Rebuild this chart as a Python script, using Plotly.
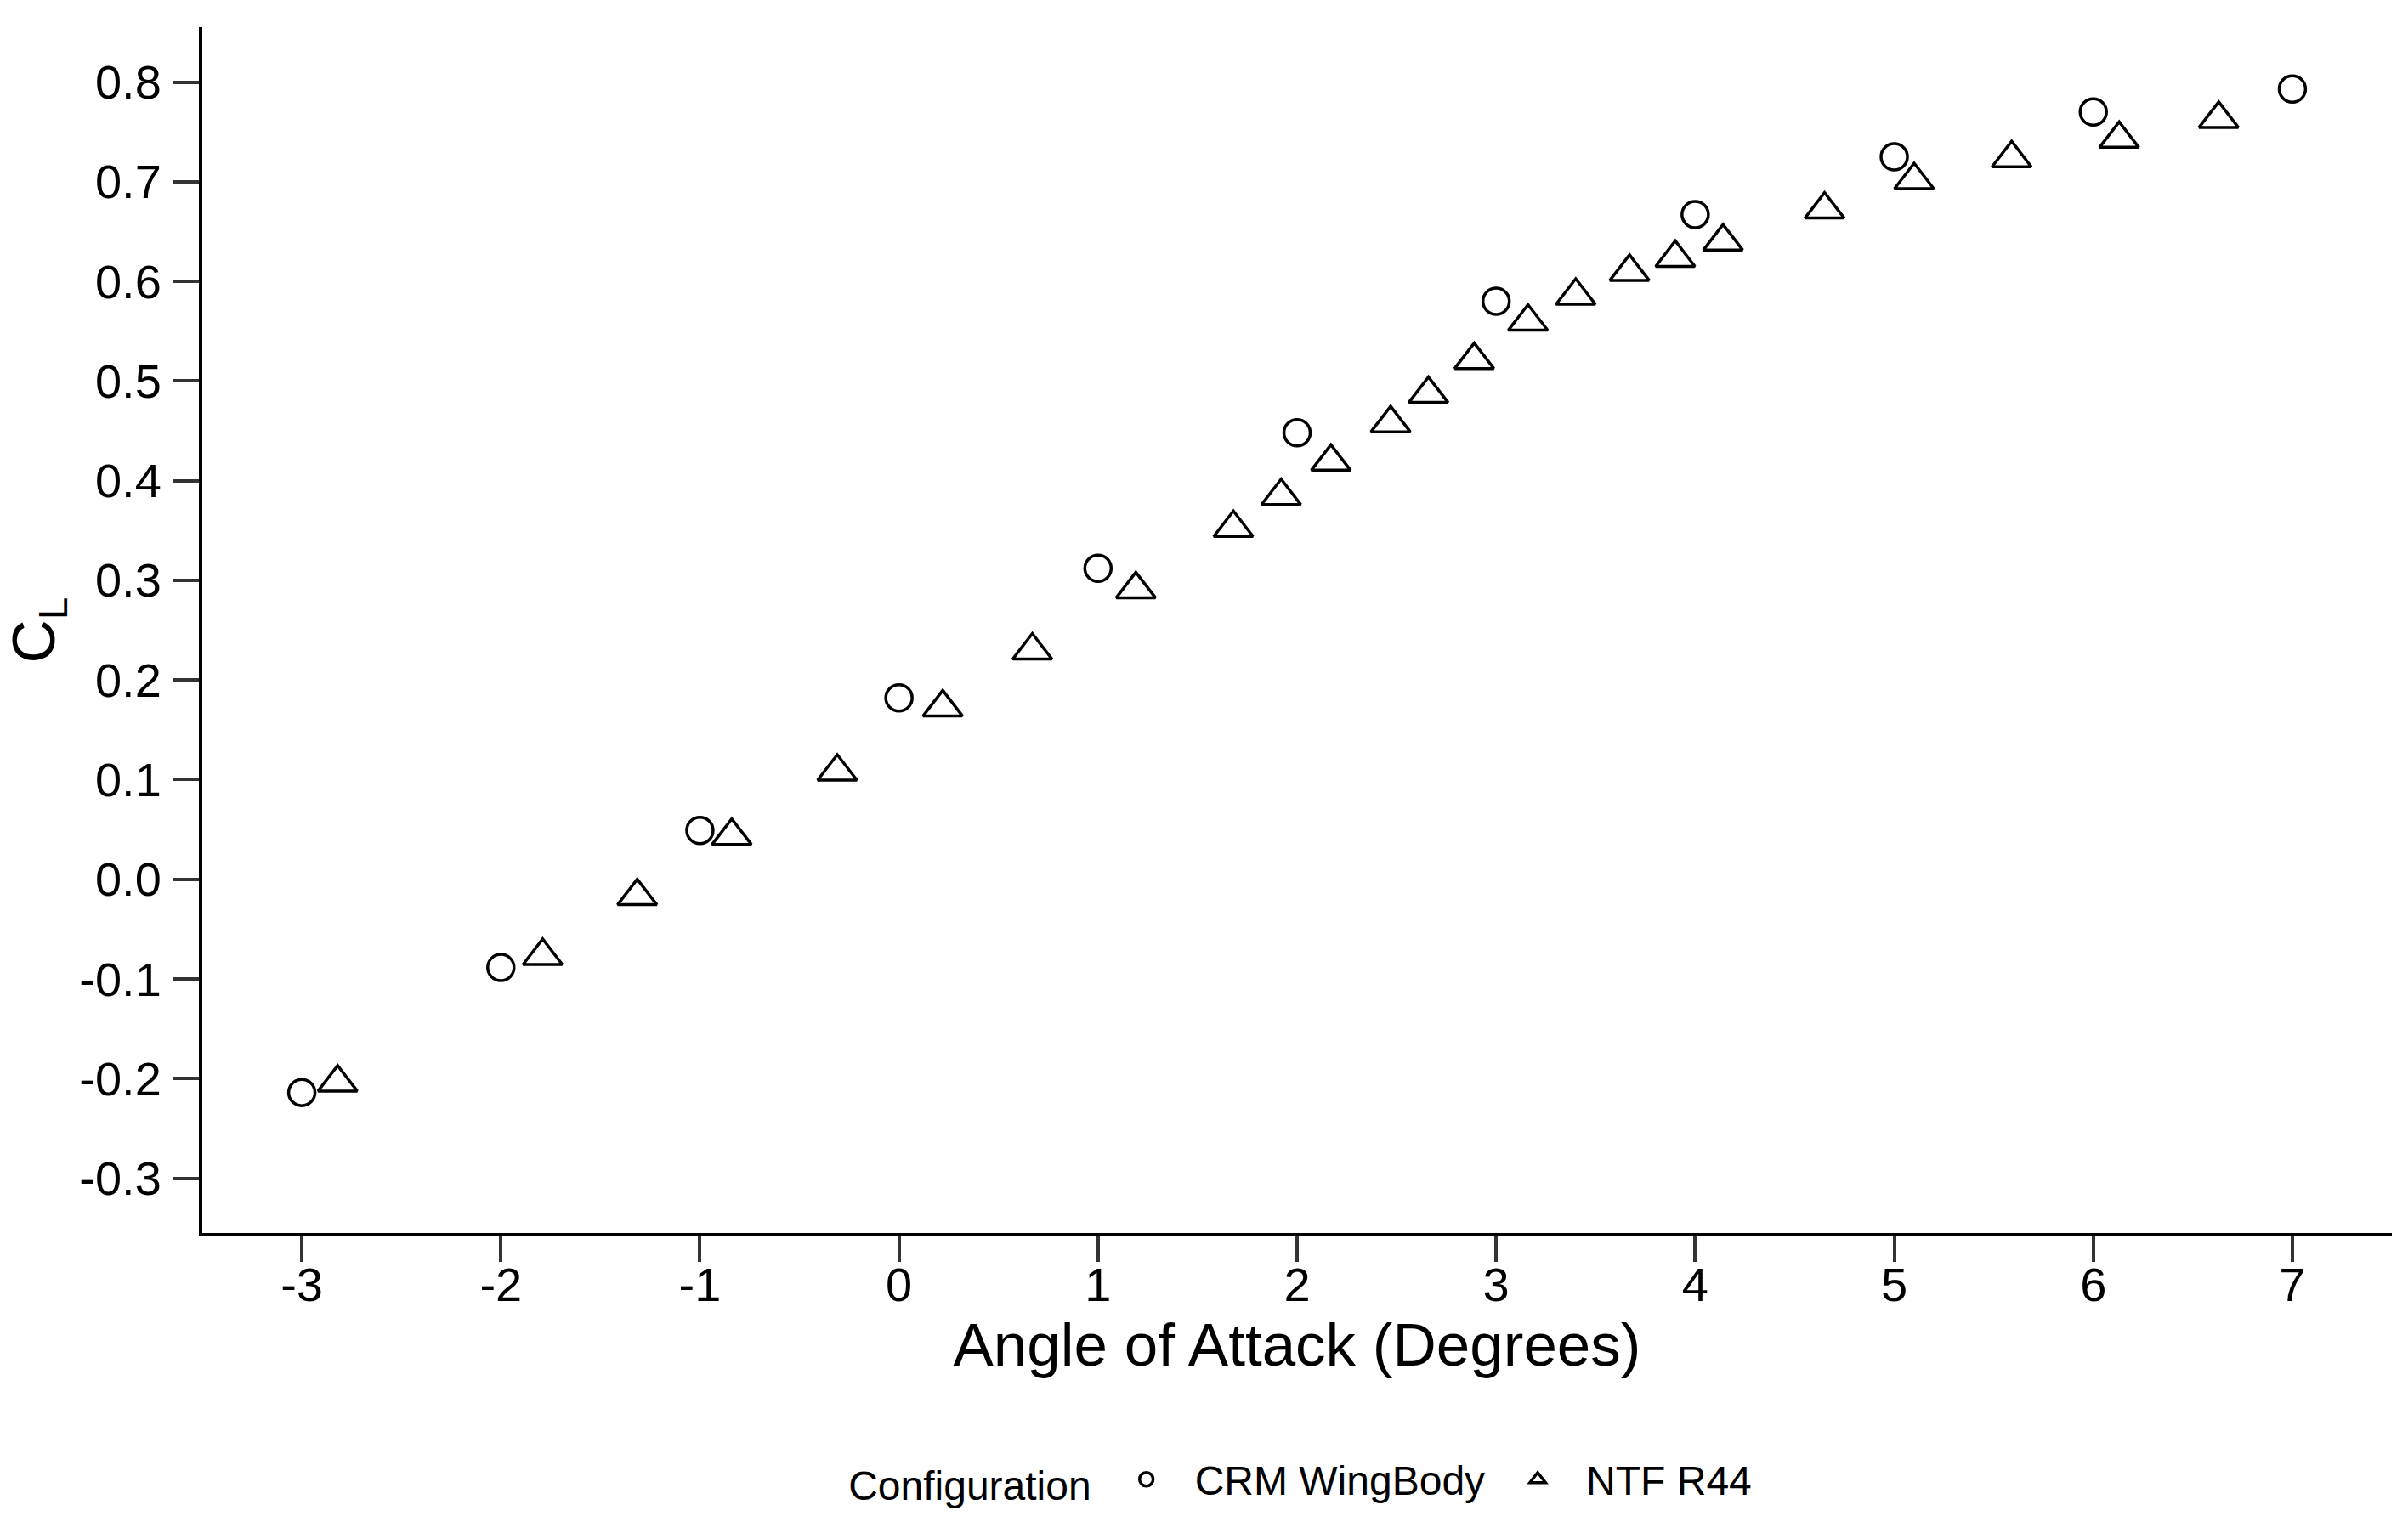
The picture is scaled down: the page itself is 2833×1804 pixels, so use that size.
import plotly.graph_objects as go

# ---- data ----
crm_alpha = [-3, -2, -1, 0, 1, 2, 3, 4, 5, 6, 7]
crm_cl = [-0.214, -0.0886, 0.049, 0.182, 0.312, 0.448, 0.580, 0.667, 0.725, 0.770, 0.793]

ntf_alpha = [-2.82, -1.79, -1.315, -0.84, -0.31, 0.22, 0.67, 1.19, 1.68, 1.92, 2.17, 2.47,
             2.66, 2.89, 3.16, 3.40, 3.67, 3.90, 4.14, 4.65, 5.10, 5.59, 6.13, 6.63]
ntf_cl = [-0.204, -0.077, -0.017, 0.0435, 0.108, 0.1725, 0.2295, 0.291, 0.3525, 0.3845, 0.419, 0.4575,
          0.487, 0.521, 0.5595, 0.5855, 0.6095, 0.6235, 0.640, 0.672, 0.7015, 0.7235, 0.743, 0.763]

x_tickvals = [-3, -2, -1, 0, 1, 2, 3, 4, 5, 6, 7]
x_ticktext = ["-3", "-2", "-1", "0", "1", "2", "3", "4", "5", "6", "7"]
y_tickvals = [-0.3, -0.2, -0.1, 0.0, 0.1, 0.2, 0.3, 0.4, 0.5, 0.6, 0.7, 0.8]
y_ticktext = ["-0.3", "-0.2", "-0.1", "0.0", "0.1", "0.2", "0.3", "0.4", "0.5", "0.6", "0.7", "0.8"]

FONT = "Liberation Sans, Arial, sans-serif"

fig = go.Figure()
fig.add_trace(go.Scatter(
    x=crm_alpha, y=crm_cl, mode="markers", name="CRM WingBody",
    marker=dict(symbol="circle-open", size=31, color="black", line=dict(width=3.5, color="black")),
))
fig.add_trace(go.Scatter(
    x=ntf_alpha, y=ntf_cl, mode="markers", name="NTF R44",
    marker=dict(symbol="triangle-up-open", size=40, color="black", line=dict(width=3.5, color="black")),
))

axis_common = dict(
    showgrid=False, zeroline=False, showline=True, linecolor="black", linewidth=4,
    ticks="outside", ticklen=30, tickwidth=4, tickcolor="#333333",
    tickfont=dict(family=FONT, size=56, color="black"),
    mirror=False,
)

fig.update_layout(
    template="none",
    width=2833, height=1804,
    margin=dict(l=238, r=19, t=32, b=353, autoexpand=False),
    paper_bgcolor="white", plot_bgcolor="white",
    font=dict(family=FONT, color="black"),
    xaxis=dict(range=[-3.5, 7.5], tickmode="array", tickvals=x_tickvals, ticktext=x_ticktext,
               ticklabelstandoff=-21, automargin=False,
               title=dict(text="Angle of Attack (Degrees)", font=dict(family=FONT, size=71), standoff=9),
               **axis_common),
    yaxis=dict(range=[-0.355, 0.855], tickmode="array", tickvals=y_tickvals, ticktext=y_ticktext,
               ticklabelstandoff=3, automargin=True,
               title=dict(text="C<sub><span style=\"font-size:48px\">L</span></sub>",
                          font=dict(family=FONT, size=71), standoff=45),
               **axis_common),
    showlegend=True,
    legend=dict(orientation="h", x=0.502, xanchor="center", y=-0.2044, yanchor="middle",
                title=dict(text="Configuration", side="left", font=dict(family=FONT, size=48)),
                font=dict(family=FONT, size=48), itemwidth=104, bgcolor="rgba(0,0,0,0)"),
)

fig.write_html("out.html", config={"displayModeBar": False},
               post_script="document.body.style.margin='0px';")
